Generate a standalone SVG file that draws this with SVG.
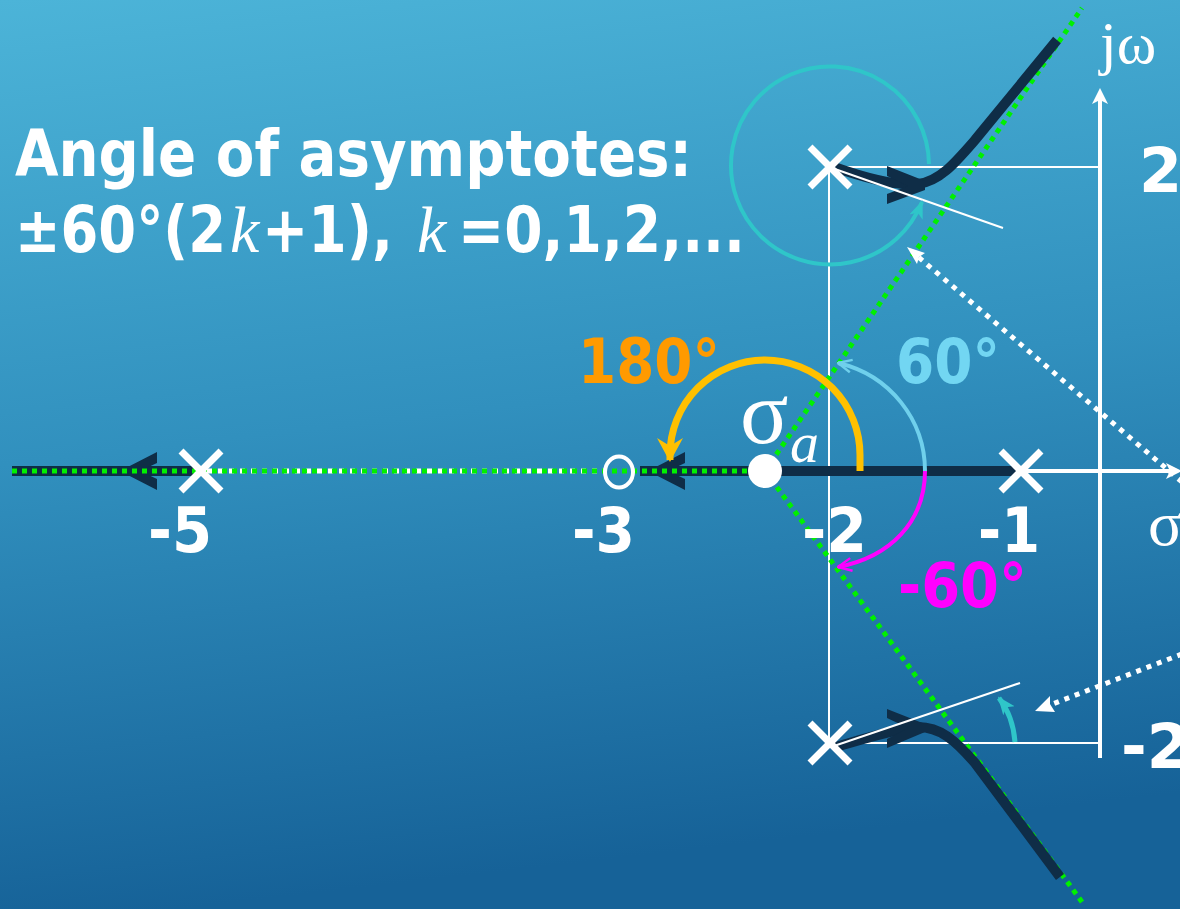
<svg xmlns="http://www.w3.org/2000/svg" width="1180" height="909" viewBox="0 0 1180 909">
  <defs>
    <linearGradient id="bg" x1="0" y1="0" x2="0.15" y2="1">
      <stop offset="0" stop-color="#4cb4d8"/>
      <stop offset="0.5" stop-color="#3190be"/>
      <stop offset="1" stop-color="#166298"/>
    </linearGradient>
    <marker id="mTeal" viewBox="0 0 20 20" refX="18" refY="10" markerWidth="18" markerHeight="18" markerUnits="userSpaceOnUse" orient="auto">
      <path d="M0,2 L20,10 L0,18 L5,10 Z" fill="#2fc6c9"/>
    </marker>
    <marker id="mYellow" viewBox="0 0 24 26" refX="22" refY="13" markerWidth="24" markerHeight="26" markerUnits="userSpaceOnUse" orient="auto">
      <path d="M0,0 L24,13 L0,26 L8,13 Z" fill="#ffc000"/>
    </marker>
    <marker id="mBlue" viewBox="0 0 20 20" refX="19" refY="10" markerWidth="16" markerHeight="16" markerUnits="userSpaceOnUse" orient="auto">
      <path d="M2,2 L19,10 L2,18" fill="none" stroke="#6fd0ec" stroke-width="3"/>
    </marker>
    <marker id="mMag" viewBox="0 0 20 20" refX="19" refY="10" markerWidth="16" markerHeight="16" markerUnits="userSpaceOnUse" orient="auto">
      <path d="M2,2 L19,10 L2,18" fill="none" stroke="#ff00ff" stroke-width="3"/>
    </marker>
    <style>
      .title { font-family: "DejaVu Sans", "Liberation Sans", sans-serif; font-weight: bold; fill: #ffffff; font-size: 64px; }
      .ital { font-family: "Liberation Serif", serif; font-style: italic; fill: #ffffff; font-size: 66px; }
      .num { font-family: "DejaVu Sans", "Liberation Sans", sans-serif; font-weight: bold; font-size: 62px; fill: #ffffff; }
      .serif { font-family: "Liberation Serif", "DejaVu Serif", serif; fill: #ffffff; }
      .thin { stroke: #ffffff; stroke-width: 2; fill: none; }
      .axis { stroke: #ffffff; stroke-width: 4; fill: none; }
      .locus { stroke: #0f2d47; stroke-width: 10; fill: none; }
      .chev { fill: #0f2d47; }
      .green { stroke: #00f000; stroke-width: 5; stroke-dasharray: 5 5; fill: none; }
      .wdot { stroke: #ffffff; stroke-width: 5; stroke-dasharray: 5 6; fill: none; }
      .pole { stroke: #ffffff; stroke-width: 7; fill: none; }
    </style>
  </defs>

  <rect x="0" y="0" width="1180" height="909" fill="url(#bg)"/>

  <!-- title -->
  <g id="title">
    <text class="title" x="15" y="176" textLength="677" lengthAdjust="spacingAndGlyphs">Angle of asymptotes:</text>
    <text class="title" x="15" y="252" textLength="211" lengthAdjust="spacingAndGlyphs">±60°(2</text>
    <text class="ital" x="230" y="252">k</text>
    <text class="title" x="262" y="252" textLength="131" lengthAdjust="spacingAndGlyphs">+1),</text>
    <text class="ital" x="417" y="252">k</text>
    <text class="title" x="458" y="252" textLength="287" lengthAdjust="spacingAndGlyphs">=0,1,2,...</text>
  </g>

  <!-- grid / construction lines -->
  <g id="grid">
    <line class="thin" x1="830" y1="167" x2="1100" y2="167"/>
    <line class="thin" x1="830" y1="743" x2="1100" y2="743"/>
    <line class="thin" x1="829" y1="167" x2="829" y2="743"/>
  </g>

  <!-- axes -->
  <g id="axes">
    <line class="axis" x1="1100" y1="100" x2="1100" y2="758"/>
    <path d="M1100,88 L1108,104 L1100,100 L1092,104 Z" fill="#ffffff"/>
    <line class="axis" x1="1021" y1="471" x2="1172" y2="471"/>
    <path d="M1182,471 L1166,479 L1170,471 L1166,463 Z" fill="#ffffff"/>
  </g>

  <!-- connectors: loci, asymptotes, arrows -->
  <g id="connectors">
    <line class="locus" x1="12" y1="471" x2="201" y2="471"/>
    <line class="locus" x1="640" y1="471" x2="1021" y2="471"/>
    <polygon class="chev" points="120,471 157,452 157,463 140,471 157,479 157,490"/>
    <polygon class="chev" points="648,471 685,452 685,463 668,471 685,479 685,490"/>
    <line class="wdot" x1="201" y1="471" x2="605" y2="471" stroke-dasharray="5 5" stroke-dashoffset="5"/>
    <line class="green" x1="12" y1="471" x2="765" y2="471"/>
    <line class="green" x1="765" y1="471" x2="1082" y2="8"/>
    <line class="green" x1="765" y1="471" x2="1085" y2="906"/>
    <path class="locus" d="M834,167 C868,179 898,186 918,184 C940,181 955,163 975,140 L1057,40"/>
    <polygon class="chev" points="887,166 925,181 925,190 887,204 887,194 908,186 887,176"/>
    <path class="locus" d="M836,747 C860,740 890,730 918,727 C940,727 955,740 975,763 L1060,877"/>
    <polygon class="chev" points="887,709 925,724 925,732 887,748 887,739 908,728 887,718"/>
    <line class="thin" x1="832" y1="168" x2="1003" y2="228"/>
    <line class="thin" x1="834" y1="746" x2="1020" y2="683"/>
    <line class="wdot" x1="1182" y1="482" x2="916" y2="255"/>
    <path d="M907,247 L925,253 L919,257 L917,264 Z" fill="#ffffff"/>
    <line class="wdot" x1="1182" y1="654" x2="1050" y2="705"/>
    <path d="M1035,711 L1050,696 L1050,704 L1055,712 Z" fill="#ffffff"/>
    <path d="M929,164 A99,99 0 1 0 922,202" fill="none" stroke="#2fc6c9" stroke-width="4" marker-end="url(#mTeal)"/>
    <path d="M1015,742 Q1013,716 999,698" fill="none" stroke="#2fc6c9" stroke-width="5" marker-end="url(#mTeal)"/>
    <path d="M860,471 L860,455 A95,95 0 0 0 670,455 L670,460" fill="none" stroke="#ffc000" stroke-width="7" marker-end="url(#mYellow)"/>
    <path d="M925,471 C925,420 890,375 838,363" fill="none" stroke="#6fd0ec" stroke-width="4" marker-end="url(#mBlue)"/>
    <path d="M925,471 C925,522 890,557 838,567" fill="none" stroke="#ff00ff" stroke-width="4" marker-end="url(#mMag)"/>
  </g>

  <!-- nodes -->
  <g id="pole-m5"><path class="pole" d="M181,451 L221,491 M221,451 L181,491"/></g>
  <g id="pole-m1"><path class="pole" d="M1001,451 L1041,491 M1041,451 L1001,491"/></g>
  <g id="pole-up"><path class="pole" d="M810,147 L850,187 M850,147 L810,187"/></g>
  <g id="pole-down"><path class="pole" d="M810,723 L850,763 M850,723 L810,763"/></g>
  <g id="zero-m3"><ellipse cx="619" cy="472" rx="14" ry="15.5" fill="none" stroke="#ffffff" stroke-width="4"/></g>
  <g id="sigma-a">
    <circle cx="765" cy="471" r="17" fill="#ffffff"/>
    <text class="serif" x="740" y="443" font-size="90">σ</text>
    <text class="serif" x="790" y="462" font-size="58" font-style="italic">a</text>
  </g>

  <!-- labels -->
  <g id="labels">
    <text class="num" x="148" y="552" textLength="64" lengthAdjust="spacingAndGlyphs">-5</text>
    <text class="num" x="572" y="552" textLength="63" lengthAdjust="spacingAndGlyphs">-3</text>
    <text class="num" x="802" y="552" textLength="65" lengthAdjust="spacingAndGlyphs">-2</text>
    <text class="num" x="978" y="552" textLength="62" lengthAdjust="spacingAndGlyphs">-1</text>
    <text class="num" x="1139" y="192">2</text>
    <text class="num" x="1121" y="768">-2</text>
    <text class="num" x="578" y="383" textLength="142" lengthAdjust="spacingAndGlyphs" style="fill:#ff9a00">180°</text>
    <text class="num" x="896" y="383" textLength="104" lengthAdjust="spacingAndGlyphs" style="fill:#72d6f2">60°</text>
    <text class="num" x="898" y="607" textLength="129" lengthAdjust="spacingAndGlyphs" style="fill:#ff00ff">-60°</text>
    <text class="serif" x="1100" y="63" font-size="60">jω</text>
    <text class="serif" x="1148" y="545" font-size="64">σ</text>
  </g>
</svg>
